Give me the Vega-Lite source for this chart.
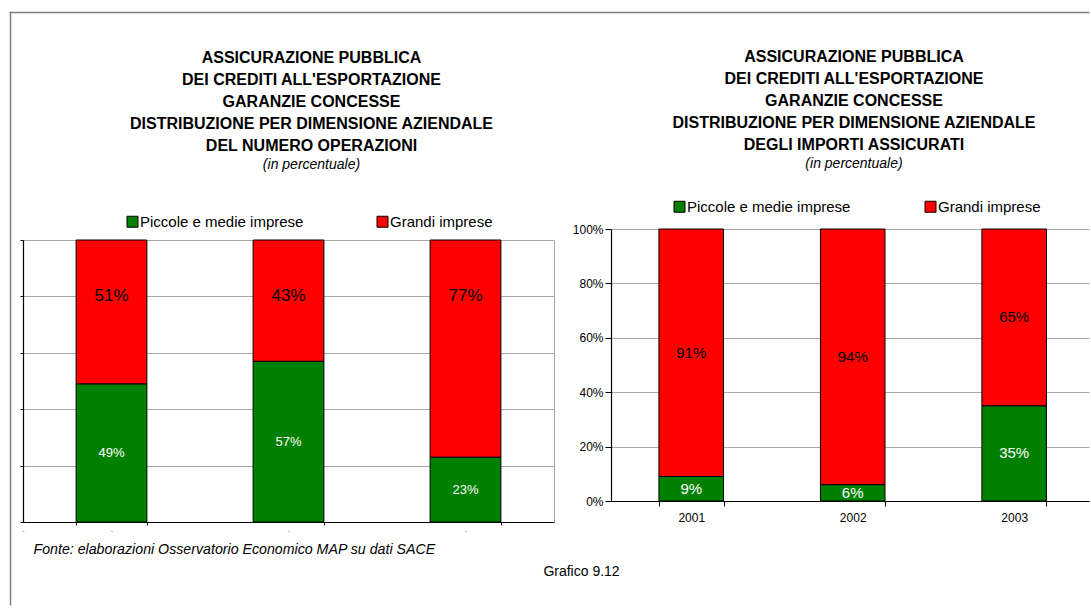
{
  "$schema": "https://vega.github.io/schema/vega-lite/v6.json",
  "padding": {"left": 10, "top": 12, "right": 0, "bottom": 0},
  "background": "white",
  "config": {
    "font": "Liberation Sans",
    "view": {"stroke": null},
    "axis": {"domainColor": "black", "domainWidth": 1.2, "tickColor": "black", "gridColor": "#a8a8a8", "labelColor": "black", "labelFont": "Liberation Sans"},
    "legend": {"labelFont": "Liberation Sans", "labelColor": "black"},
    "title": {"font": "Liberation Sans", "color": "black", "subtitleFont": "Liberation Sans", "subtitleColor": "black"}
  },
  "datasets": {
    "ops": [
      {"year": "2001", "group": "Piccole e medie imprese", "value": 49},
      {"year": "2001", "group": "Grandi imprese", "value": 51},
      {"year": "2002", "group": "Piccole e medie imprese", "value": 57},
      {"year": "2002", "group": "Grandi imprese", "value": 43},
      {"year": "2003", "group": "Piccole e medie imprese", "value": 23},
      {"year": "2003", "group": "Grandi imprese", "value": 77}
    ],
    "imp": [
      {"year": "2001", "group": "Piccole e medie imprese", "value": 9},
      {"year": "2001", "group": "Grandi imprese", "value": 91},
      {"year": "2002", "group": "Piccole e medie imprese", "value": 6},
      {"year": "2002", "group": "Grandi imprese", "value": 94},
      {"year": "2003", "group": "Piccole e medie imprese", "value": 35},
      {"year": "2003", "group": "Grandi imprese", "value": 65}
    ]
  },
  "resolve": {"scale": {"color": "independent", "y": "independent", "x": "independent"}, "legend": {"color": "independent"}},
  "bounds": "flush",
  "spacing": 57,
  "hconcat": [
    {
      "width": 531,
      "height": 293,
      "title": {
        "text": ["ASSICURAZIONE PUBBLICA", "DEI CREDITI ALL'ESPORTAZIONE", "GARANZIE CONCESSE", "DISTRIBUZIONE PER DIMENSIONE AZIENDALE", "DEL NUMERO OPERAZIONI"],
        "subtitle": "(in percentuale)",
        "fontSize": 16, "fontWeight": "bold", "lineHeight": 22,
        "subtitleFontSize": 14, "subtitleFontStyle": "italic", "subtitlePadding": 4,
        "anchor": "middle", "dx": 23, "offset": -160
      },
      "data": {"name": "ops"},
      "transform": [
        {"stack": "value", "groupby": ["year"], "sort": [{"field": "group", "order": "descending"}], "as": ["v0", "v1"]},
        {"calculate": "(datum.v0 + datum.v1) / 2", "as": "vmid"},
        {"calculate": "datum.value + '%'", "as": "label"}
      ],
      "resolve": {"scale": {"x": "independent", "y": "independent"}, "axis": {"x": "independent", "y": "independent"}},
      "layer": [
        {
          "encoding": {
            "x": {"field": "year", "type": "nominal", "scale": {"paddingInner": 0.6, "paddingOuter": 0.3},
              "axis": {"labelExpr": "'-'", "labelFontSize": 7, "labelColor": "#777", "labelAngle": 0, "tickBand": "extent", "tickSize": 3, "labelPadding": 1,
                "title": "Fonte: elaborazioni Osservatorio Economico MAP su dati SACE", "titleFontStyle": "italic", "titleFontWeight": "normal", "titleFontSize": 14.2,
                "titleAnchor": "start", "titleAlign": "left", "titleX": 10, "titleY": 27, "titleBaseline": "middle"}}
          },
          "resolve": {"axis": {"y": "independent"}},
          "layer": [
            {
              "mark": {"type": "bar", "stroke": "black", "strokeWidth": 1},
              "encoding": {
                "y": {"field": "v0", "type": "quantitative", "scale": {"domain": [0, 100], "nice": false, "range": [293, 11]},
                  "axis": {"labels": false, "title": null, "values": [0, 20, 40, 60, 80, 100], "tickSize": 3, "grid": true}},
                "y2": {"field": "v1"},
                "color": {"field": "group", "type": "nominal",
                  "scale": {"domain": ["Piccole e medie imprese", "Grandi imprese"], "range": ["#008000", "#FF0000"]},
                  "legend": {"title": null, "orient": "none", "legendX": 102, "legendY": -15, "direction": "horizontal",
                    "symbolType": "square", "symbolSize": 121, "symbolStrokeColor": "black", "symbolStrokeWidth": 1, "symbolOpacity": 1,
                    "labelFontSize": 15, "labelOffset": 0, "labelLimit": 400, "columnPadding": 71}}
              }
            },
            {
              "transform": [{"filter": "datum.group == 'Piccole e medie imprese'"}],
              "mark": {"type": "text", "color": "white", "fontSize": 13, "baseline": "middle"},
              "encoding": {"y": {"field": "vmid", "type": "quantitative", "axis": null}, "text": {"field": "label"}}
            },
            {
              "transform": [{"filter": "datum.group == 'Grandi imprese'"}],
              "mark": {"type": "text", "color": "black", "fontSize": 17, "baseline": "middle", "dy": 56},
              "encoding": {"y": {"field": "v1", "type": "quantitative",
                "axis": {"orient": "right", "labels": false, "ticks": false, "grid": false, "title": null, "domainColor": "#a8a8a8", "domainWidth": 1}},
                "text": {"field": "label"}}
            }
          ]
        },
        {
          "mark": {"type": "point", "opacity": 0},
          "encoding": {
            "x": {"field": "value", "type": "quantitative", "scale": {"domain": [0, 100], "nice": false, "zero": false, "range": [-14, 1066]},
              "axis": {"orient": "top", "offset": 217, "labels": false, "ticks": false, "grid": false, "title": null, "domainColor": "#7f7f7f", "domainWidth": 1.5}},
            "y": {"field": "value", "type": "quantitative", "scale": {"domain": [0, 100], "nice": false, "zero": false, "range": [376, -217]},
              "axis": {"orient": "left", "offset": 13, "labels": false, "ticks": false, "grid": false, "title": null, "domainColor": "#7f7f7f", "domainWidth": 1.5}}
          }
        }
      ]
    },
    {
      "width": 478,
      "height": 272,
      "title": {
        "text": ["ASSICURAZIONE PUBBLICA", "DEI CREDITI ALL'ESPORTAZIONE", "GARANZIE CONCESSE", "DISTRIBUZIONE PER DIMENSIONE AZIENDALE", "DEGLI IMPORTI ASSICURATI"],
        "subtitle": "(in percentuale)",
        "fontSize": 16, "fontWeight": "bold", "lineHeight": 22,
        "subtitleFontSize": 14, "subtitleFontStyle": "italic", "subtitlePadding": 4,
        "anchor": "middle", "dx": 4, "offset": 28
      },
      "data": {"name": "imp"},
      "transform": [
        {"stack": "value", "groupby": ["year"], "sort": [{"field": "group", "order": "descending"}], "as": ["v0", "v1"]},
        {"calculate": "(datum.v0 + datum.v1) / 2", "as": "vmid"},
        {"calculate": "datum.value + '%'", "as": "label"}
      ],
      "encoding": {
        "x": {"field": "year", "type": "nominal", "scale": {"paddingInner": 0.6, "paddingOuter": 0.28, "align": 0.53},
          "axis": {"labelAngle": 0, "labelFontSize": 12, "tickBand": "extent", "tickSize": 5, "labelPadding": 6,
            "title": "Grafico 9.12", "titleFontSize": 14, "titleFontWeight": "normal", "titleAnchor": "start", "titleAlign": "center", "titleX": -30, "titleY": 70, "titleBaseline": "middle"}}
      },
      "layer": [
        {
          "mark": {"type": "bar", "stroke": "black", "strokeWidth": 1},
          "encoding": {
            "y": {"field": "v0", "type": "quantitative", "scale": {"domain": [0, 100], "nice": false},
              "axis": {"title": null, "values": [0, 20, 40, 60, 80, 100], "labelExpr": "datum.value + '%'", "labelFontSize": 12, "tickSize": 6, "labelPadding": 2, "grid": true}},
            "y2": {"field": "v1"},
            "color": {"field": "group", "type": "nominal",
              "scale": {"domain": ["Piccole e medie imprese", "Grandi imprese"], "range": ["#008000", "#FF0000"]},
              "legend": {"title": null, "orient": "none", "legendX": 61, "legendY": -30, "direction": "horizontal",
                "symbolType": "square", "symbolSize": 121, "symbolStrokeColor": "black", "symbolStrokeWidth": 1, "symbolOpacity": 1,
                "labelFontSize": 15, "labelOffset": 0, "labelLimit": 400, "columnPadding": 72}}
          }
        },
        {
          "transform": [{"filter": "datum.group == 'Piccole e medie imprese'"}],
          "mark": {"type": "text", "color": "white", "fontSize": 15, "baseline": "middle"},
          "encoding": {"y": {"field": "vmid", "type": "quantitative"}, "text": {"field": "label"}}
        },
        {
          "transform": [{"filter": "datum.group == 'Grandi imprese'"}],
          "mark": {"type": "text", "color": "black", "fontSize": 15, "baseline": "middle"},
          "encoding": {"y": {"field": "vmid", "type": "quantitative"}, "text": {"field": "label"}}
        }
      ]
    }
  ]
}
